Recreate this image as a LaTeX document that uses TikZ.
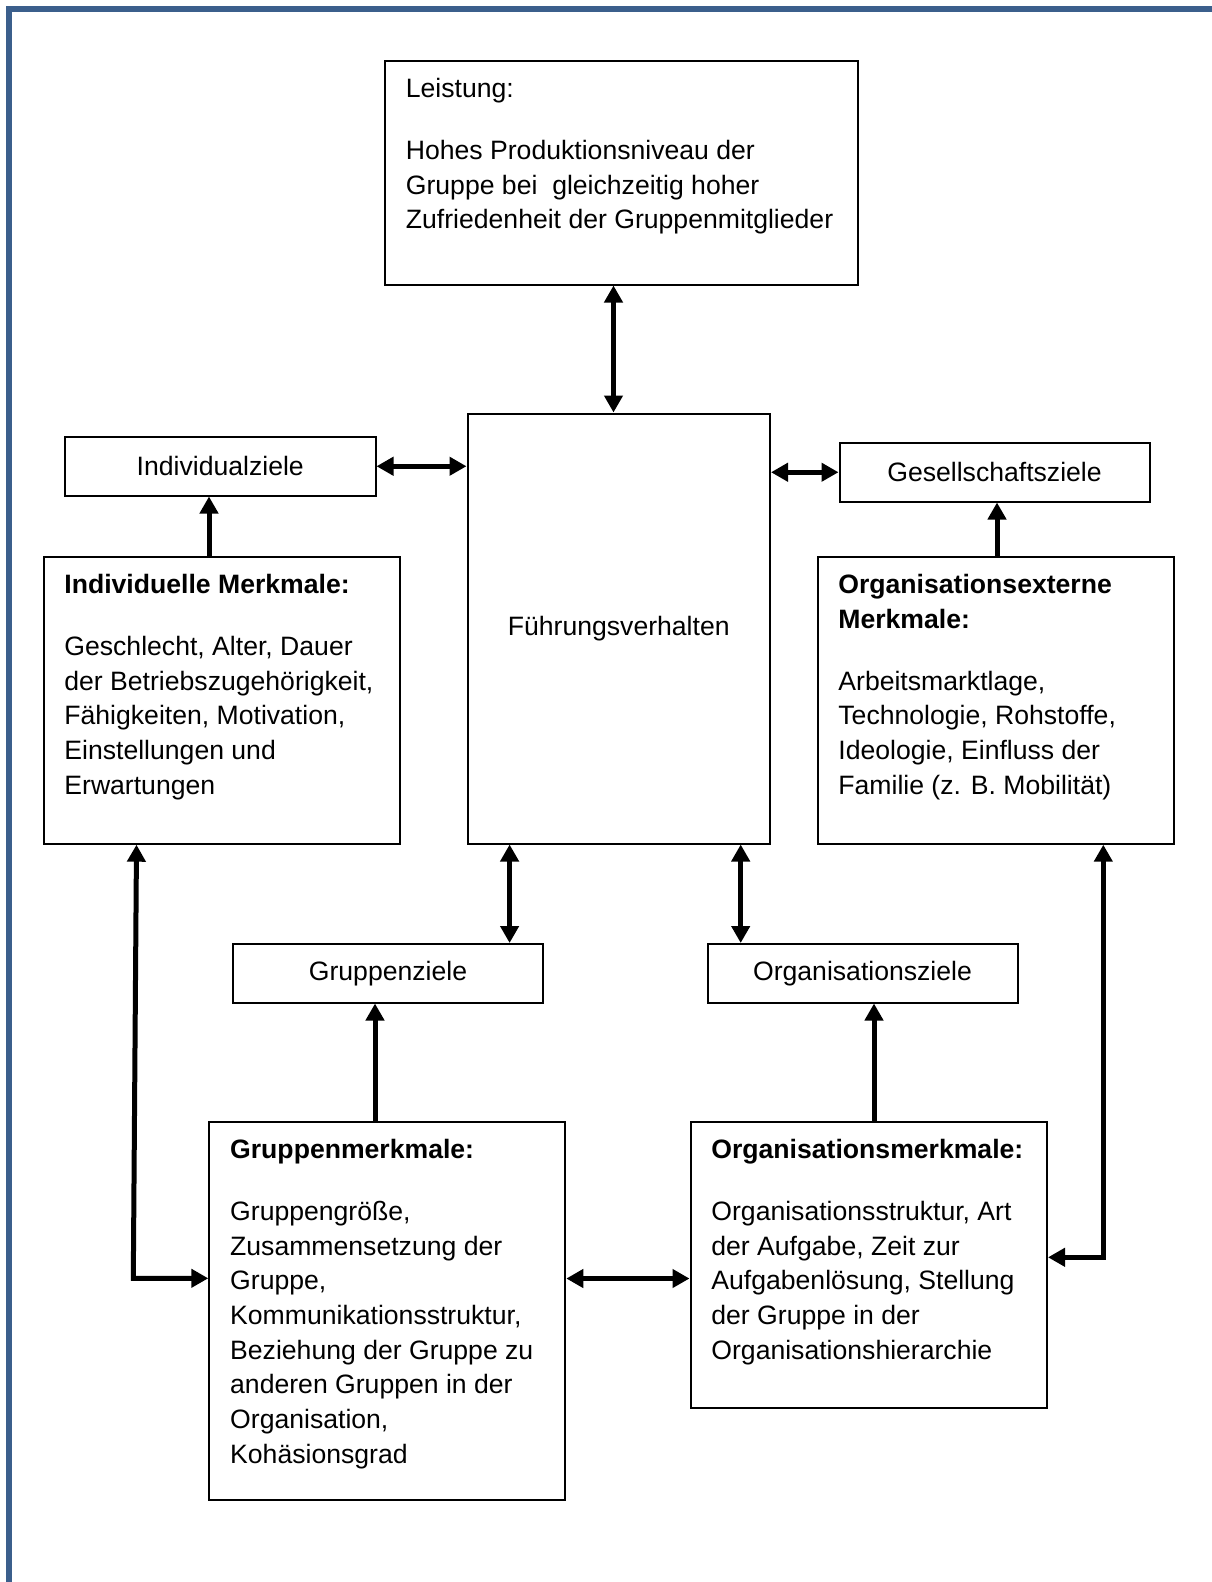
\documentclass[tikz,border=0pt]{standalone}
\usepackage{fontspec}
\setmainfont{Liberation Sans}
\usetikzlibrary{arrows.meta}
\definecolor{frameblue}{RGB}{59,95,140}
\tikzset{
  box/.style={draw, line width=2pt, rectangle, inner sep=0pt, anchor=north west},
  cbox/.style={box, font=\fontsize{26.6pt}{34.7pt}\selectfont, align=center},
  txt/.style={anchor=north west, inner sep=0pt, align=left, font=\fontsize{26.6pt}{34.7pt}\selectfont},
  arr/.style={line width=5pt, -{Triangle[length=17pt,width=18pt]}},
  dbl/.style={line width=5pt, {Triangle[length=17pt,width=18pt]}-{Triangle[length=17pt,width=18pt]}},
}
\newcommand{\fs}{\rule{0pt}{21pt}}
\begin{document}
\begin{tikzpicture}[x=1pt,y=-1pt]
\useasboundingbox (0,0) rectangle (1212,1582);
% frame
\draw[frameblue, line width=6pt] (9,1582) -- (9,9) -- (1212,9);

% boxes
\node[box, minimum width=473pt, minimum height=223.5pt] (lei) at (384,60) {};
\node[txt] (leit) at ([shift={(21.7,16.5)}]lei.north west)
  {\fs Leistung:\\[27pt]Hohes Produktionsniveau der\\Gruppe bei\ \ gleichzeitig hoher\\Zufriedenheit der Gruppenmitglieder};

\node[cbox, minimum width=302.5pt, minimum height=430pt] (fue) at (466.5,412.5) {Führungsverhalten};

\node[cbox, minimum width=310.5pt, minimum height=58.5pt] (ind) at (64,436) {Individualziele};
\node[cbox, minimum width=310pt, minimum height=58.5pt] (ges) at (838.5,442) {Gesellschaftsziele};

\node[box, minimum width=356pt, minimum height=286.7pt] (im) at (42.5,556) {};
\node[txt] (imt) at ([shift={(21.7,16.5)}]im.north west)
  {\fs\textbf{Individuelle Merkmale:}\\[27pt]Geschlecht, Alter, Dauer\\der Betriebszugehörigkeit,\\Fähigkeiten, Motivation,\\Einstellungen und\\Erwartungen};

\node[box, minimum width=356pt, minimum height=286.7pt] (oe) at (816.5,556) {};
\node[txt] (oet) at ([shift={(21.7,16.5)}]oe.north west)
  {\fs\textbf{Organisationsexterne}\\\textbf{Merkmale:}\\[27pt]Arbeitsmarktlage,\\Technologie, Rohstoffe,\\Ideologie, Einfluss der\\Familie (z. B. Mobilität)};

\node[cbox, minimum width=310pt, minimum height=58.5pt] (grz) at (232,943) {Gruppenziele};
\node[cbox, minimum width=310pt, minimum height=58.5pt] (orz) at (706.5,943) {Organisationsziele};

\node[box, minimum width=356pt, minimum height=377.6pt] (gm) at (208.3,1121) {};
\node[txt] (gmt) at ([shift={(21.7,16.5)}]gm.north west)
  {\fs\textbf{Gruppenmerkmale:}\\[27pt]Gruppengröße,\\Zusammensetzung der\\Gruppe,\\Kommunikationsstruktur,\\Beziehung der Gruppe zu\\anderen Gruppen in der\\Organisation,\\Kohäsionsgrad};

\node[box, minimum width=356.5pt, minimum height=286pt] (om) at (689.5,1121) {};
\node[txt] (omt) at ([shift={(21.7,16.5)}]om.north west)
  {\fs\textbf{Organisationsmerkmale:}\\[27pt]Organisationsstruktur, Art\\der Aufgabe, Zeit zur\\Aufgabenlösung, Stellung\\der Gruppe in der\\Organisationshierarchie};

% helper coordinates
\coordinate (xa) at (613.5,0);
\coordinate (xb) at (209,0);
\coordinate (xc) at (997,0);
\coordinate (xd) at (509.6,0);
\coordinate (xe) at (740.7,0);
\coordinate (xf) at (375,0);
\coordinate (xg) at (874,0);
\coordinate (la) at (136.5,0);
\coordinate (lb) at (133.3,1278.3);
\coordinate (ra) at (1103.3,0);
\coordinate (rb) at (1103.3,1257.3);
\coordinate (ym) at (0,1278.5);

% connectors
\draw[dbl] (xa |- lei.south) -- (xa |- fue.north);
\draw[dbl] (ind.east) -- (ind.east -| fue.west);
\draw[dbl] (fue.east |- ges.west) -- (ges.west);
\draw[arr] (xb |- im.north) -- (xb |- ind.south);
\draw[arr] (xc |- oe.north) -- (xc |- ges.south);
\draw[dbl] (xd |- fue.south) -- (xd |- grz.north);
\draw[dbl] (xe |- fue.south) -- (xe |- orz.north);
\draw[arr] (xf |- gm.north) -- (xf |- grz.south);
\draw[arr] (xg |- om.north) -- (xg |- orz.south);
\draw[dbl] (la |- im.south) -- (lb) -- (lb -| gm.west);
\draw[dbl] (ra |- oe.south) -- (rb) -- (rb -| om.east);
\draw[dbl] (gm.east |- ym) -- (om.west |- ym);
\end{tikzpicture}
\end{document}
